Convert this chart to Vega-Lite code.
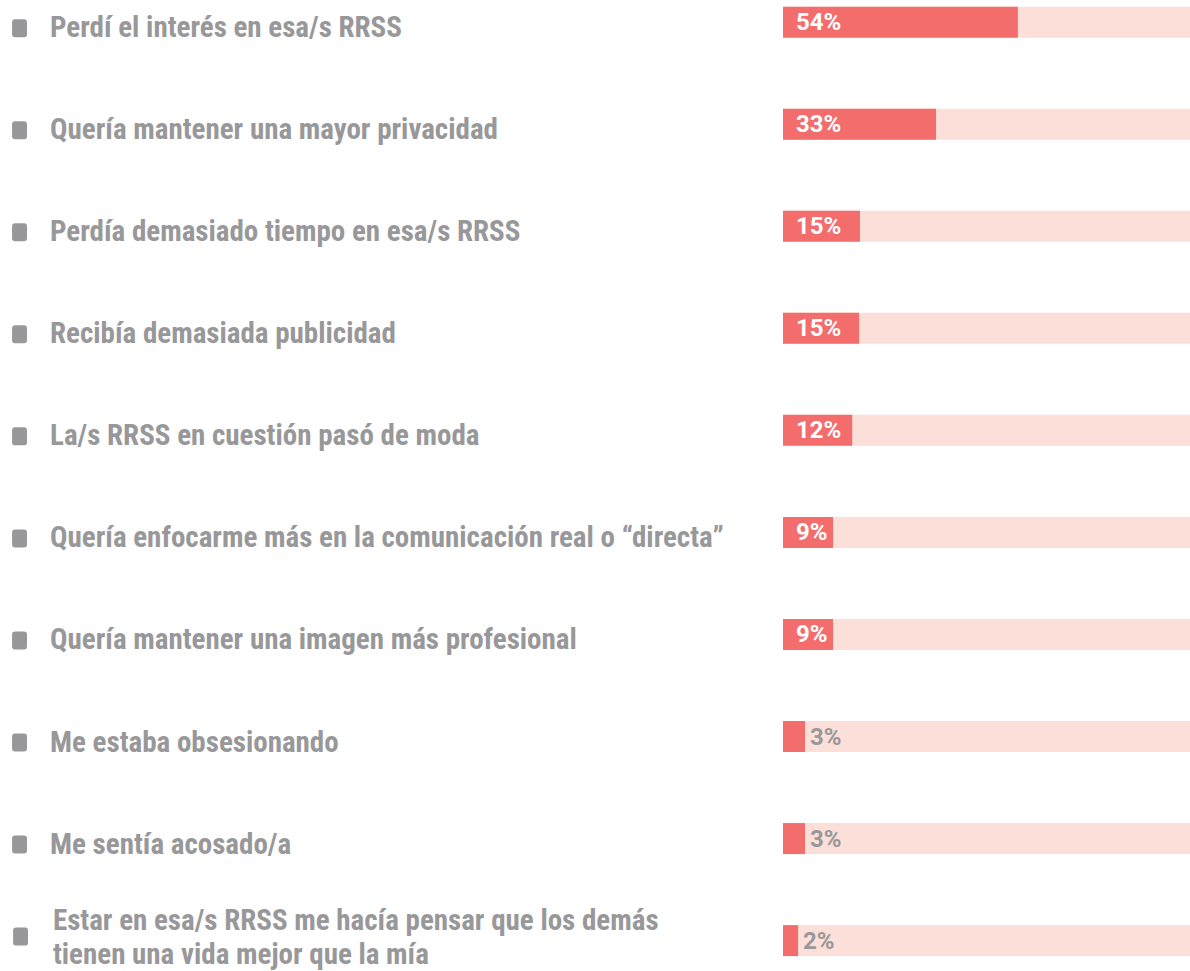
{
  "$schema": "https://vega.github.io/schema/vega-lite/v6.json",
  "width": 1190,
  "height": 971,
  "padding": 0,
  "autosize": {"type": "fit", "contains": "padding"},
  "background": "white",
  "config": {"view": {"stroke": null}},
  "data": {
    "values": [
      {"reason": "Perdí el interés en esa/s RRSS", "share": 0.54, "length": 57.7, "track": 100},
      {"reason": "Quería mantener una mayor privacidad", "share": 0.33, "length": 37.6, "track": 100},
      {"reason": "Perdía demasiado tiempo en esa/s RRSS", "share": 0.15, "length": 18.9, "track": 100},
      {"reason": "Recibía demasiada publicidad", "share": 0.15, "length": 18.7, "track": 100},
      {"reason": "La/s RRSS en cuestión pasó de moda", "share": 0.12, "length": 17.0, "track": 100},
      {"reason": "Quería enfocarme más en la comunicación real o “directa”", "share": 0.09, "length": 12.3, "track": 100},
      {"reason": "Quería mantener una imagen más profesional", "share": 0.09, "length": 12.3, "track": 100},
      {"reason": "Me estaba obsesionando", "share": 0.03, "length": 5.4, "track": 100},
      {"reason": "Me sentía acosado/a", "share": 0.03, "length": 5.4, "track": 100},
      {"reason": "Estar en esa/s RRSS me hacía pensar que los demás\ntienen una vida mejor que la mía", "share": 0.02, "length": 3.7, "track": 100}
    ]
  },
  "encoding": {
    "y": {"field": "reason", "type": "nominal", "sort": null, "axis": null, "scale": {"paddingInner": 0.6, "paddingOuter": 0.0575, "align": 0.15}}
  },
  "layer": [
    {
      "mark": {"type": "bar", "color": "#FCDFD8", "height": 31},
      "encoding": {
        "x": {"field": "track", "type": "quantitative", "axis": null, "scale": {"domain": [-192.4, 100], "nice": false, "zero": false}}
      }
    },
    {
      "mark": {"type": "bar", "color": "#F36D6D", "height": 31},
      "encoding": {
        "x": {"field": "length", "type": "quantitative"}
      }
    },
    {
      "transform": [{"filter": "indexof(datum.reason, '\\n') < 0"}],
      "mark": {"type": "point", "filled": true, "opacity": 1, "color": "#98989A", "size": 324, "shape": "M-0.5,-1 L0.5,-1 Q0.83,-1 0.83,-0.67 L0.83,0.67 Q0.83,1 0.5,1 L-0.5,1 Q-0.83,1 -0.83,0.67 L-0.83,-0.67 Q-0.83,-1 -0.5,-1 Z", "yOffset": 6},
      "encoding": {
        "x": {"datum": -187.6, "type": "quantitative"}
      }
    },
    {
      "transform": [{"filter": "indexof(datum.reason, '\\n') >= 0"}],
      "mark": {"type": "point", "filled": true, "opacity": 1, "color": "#98989A", "size": 324, "shape": "M-0.5,-1 L0.5,-1 Q0.83,-1 0.83,-0.67 L0.83,0.67 Q0.83,1 0.5,1 L-0.5,1 Q-0.83,1 -0.83,0.67 L-0.83,-0.67 Q-0.83,-1 -0.5,-1 Z", "yOffset": -4},
      "encoding": {
        "x": {"datum": -187.35, "type": "quantitative"}
      }
    },
    {
      "transform": [{"filter": "indexof(datum.reason, '\\n') < 0"}],
      "mark": {"type": "text", "align": "left", "baseline": "middle", "dy": 6, "font": "Roboto Condensed, DejaVu Sans Condensed, Liberation Sans Narrow, Roboto", "fontWeight": "bold", "fontSize": 29, "color": "#98989A"},
      "encoding": {
        "x": {"datum": -180.1, "type": "quantitative"},
        "text": {"field": "reason"}
      }
    },
    {
      "transform": [{"filter": "indexof(datum.reason, '\\n') >= 0"}],
      "mark": {"type": "text", "align": "left", "baseline": "middle", "dy": -20, "font": "Roboto Condensed, DejaVu Sans Condensed, Liberation Sans Narrow, Roboto", "fontWeight": "bold", "fontSize": 29, "color": "#98989A", "lineBreak": "\n", "lineHeight": 34},
      "encoding": {
        "x": {"datum": -179.4, "type": "quantitative"},
        "text": {"field": "reason"}
      }
    },
    {
      "transform": [{"filter": "datum.length > 10"}],
      "mark": {"type": "text", "align": "left", "baseline": "middle", "dx": 13, "dy": 1, "font": "Roboto", "fontWeight": "bold", "fontSize": 24, "color": "#FFFFFF"},
      "encoding": {
        "x": {"datum": 0, "type": "quantitative"},
        "text": {"field": "share", "format": ".0%"}
      }
    },
    {
      "transform": [{"filter": "datum.length <= 10"}],
      "mark": {"type": "text", "align": "left", "baseline": "middle", "dx": 5, "dy": 1, "font": "Roboto", "fontWeight": "bold", "fontSize": 24, "color": "#98989A"},
      "encoding": {
        "x": {"field": "length", "type": "quantitative"},
        "text": {"field": "share", "format": ".0%"}
      }
    }
  ]
}
